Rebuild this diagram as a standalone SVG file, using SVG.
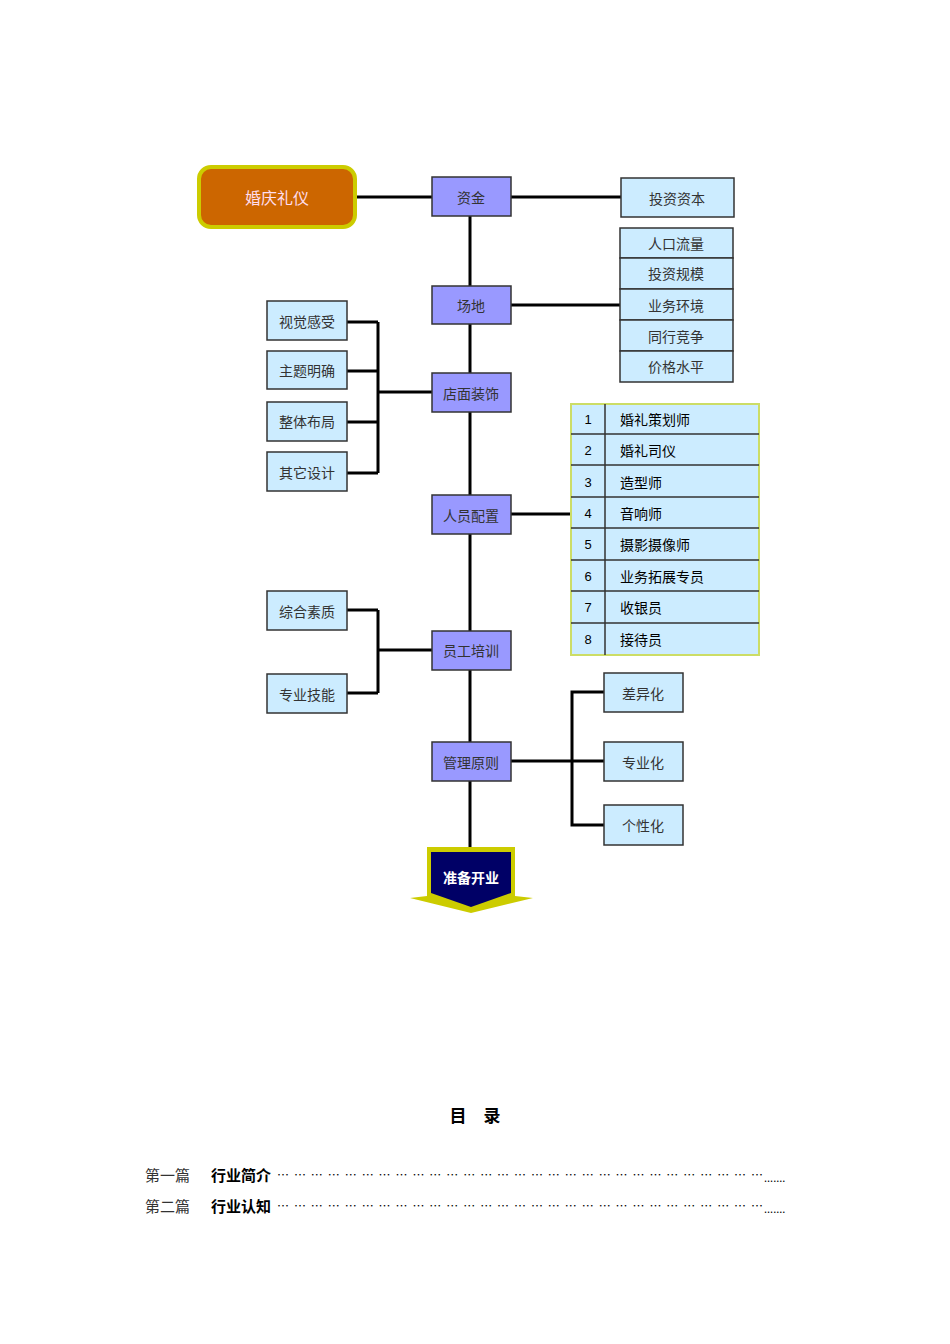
<svg xmlns="http://www.w3.org/2000/svg" width="950" height="1344" viewBox="0 0 950 1344">
<style>
.p{fill:#9999FF;stroke:#333;stroke-width:1.5}
.b{fill:#CCECFF;stroke:#333;stroke-width:1.5}
.t{font-family:"Noto Sans CJK SC",sans-serif;font-size:14px;fill:#333;text-anchor:middle;dominant-baseline:central}
.tb{font-family:"Noto Sans CJK SC",sans-serif;font-size:14px;fill:#000;dominant-baseline:central}
.l{stroke:#000;stroke-width:3;fill:none}
</style>
<rect width="950" height="1344" fill="#fff"/>
<g id="connectors">
<path class="l" d="M356 197H432M511 197H621M470 216V847M511 305H620M347 322H378M347 371H378M347 422H378M347 473H378M378 322V473M378 392H432M511 514H571M347 610H378M347 693H378M378 610V693M378 650H432M511 761H604M604 692H572V825H604"/>
</g>
<g id="n0"><rect x="199" y="167" width="156" height="60" rx="12" fill="#CC6600" stroke="#CCCC00" stroke-width="4"/><text class="t" x="277" y="197" style="fill:#fde;font-size:16px">婚庆礼仪</text></g>
<g id="n1"><rect class="p" x="432" y="177" width="79" height="39"/><text class="t" x="471" y="197">资金</text></g>
<g id="n2"><rect class="b" x="621" y="178" width="113" height="39"/><text class="t" x="677" y="198">投资资本</text></g>
<g id="n3"><rect class="b" x="620" y="228" width="113" height="30"/><text class="t" x="676" y="243">人口流量</text></g>
<g id="n4"><rect class="b" x="620" y="258" width="113" height="31"/><text class="t" x="676" y="273">投资规模</text></g>
<g id="n5"><rect class="b" x="620" y="289" width="113" height="31"/><text class="t" x="676" y="305">业务环境</text></g>
<g id="n6"><rect class="b" x="620" y="320" width="113" height="31"/><text class="t" x="676" y="336">同行竞争</text></g>
<g id="n7"><rect class="b" x="620" y="351" width="113" height="31"/><text class="t" x="676" y="366">价格水平</text></g>
<g id="n8"><rect class="p" x="432" y="286" width="79" height="38"/><text class="t" x="471" y="305">场地</text></g>
<g id="n9"><rect class="b" x="267" y="301" width="80" height="39"/><text class="t" x="307" y="321">视觉感受</text></g>
<g id="n10"><rect class="b" x="267" y="351" width="80" height="38"/><text class="t" x="307" y="370">主题明确</text></g>
<g id="n11"><rect class="b" x="267" y="402" width="80" height="39"/><text class="t" x="307" y="421">整体布局</text></g>
<g id="n12"><rect class="b" x="267" y="452" width="80" height="39"/><text class="t" x="307" y="472">其它设计</text></g>
<g id="n13"><rect class="p" x="432" y="373" width="79" height="39"/><text class="t" x="471" y="393">店面装饰</text></g>
<g id="table">
<rect x="571" y="404" width="188" height="251" fill="#CCECFF" stroke="#CCDD66" stroke-width="2"/>
<path d="M571 434H759M571 465H759M571 497H759M571 528H759M571 560H759M571 591H759M571 623H759M605 404V655" stroke="#333" stroke-width="1.5"/>
<g font-size="13" font-family="Liberation Sans,sans-serif" text-anchor="middle" dominant-baseline="central">
<text x="588" y="419">1</text><text x="588" y="450">2</text><text x="588" y="482">3</text><text x="588" y="513">4</text><text x="588" y="544">5</text><text x="588" y="576">6</text><text x="588" y="607">7</text><text x="588" y="639">8</text></g>
<text class="tb" x="620" y="419">婚礼策划师</text><text class="tb" x="620" y="450">婚礼司仪</text><text class="tb" x="620" y="482">造型师</text><text class="tb" x="620" y="513">音响师</text><text class="tb" x="620" y="544">摄影摄像师</text><text class="tb" x="620" y="576">业务拓展专员</text><text class="tb" x="620" y="607">收银员</text><text class="tb" x="620" y="639">接待员</text>
</g>
<g id="n14"><rect class="p" x="432" y="495" width="79" height="39"/><text class="t" x="471" y="515">人员配置</text></g>
<g id="n15"><rect class="b" x="267" y="591" width="80" height="39"/><text class="t" x="307" y="611">综合素质</text></g>
<g id="n16"><rect class="b" x="267" y="674" width="80" height="39"/><text class="t" x="307" y="694">专业技能</text></g>
<g id="n17"><rect class="p" x="432" y="631" width="79" height="39"/><text class="t" x="471" y="650">员工培训</text></g>
<g id="n18"><rect class="b" x="604" y="673" width="79" height="39"/><text class="t" x="643" y="693">差异化</text></g>
<g id="n19"><rect class="b" x="604" y="742" width="79" height="39"/><text class="t" x="643" y="762">专业化</text></g>
<g id="n20"><rect class="b" x="604" y="805" width="79" height="40"/><text class="t" x="643" y="825">个性化</text></g>
<g id="n21"><rect class="p" x="432" y="742" width="79" height="39"/><text class="t" x="471" y="762">管理原则</text></g>
<g id="n22"><polygon points="427,847 515,847 515,896 533,898 471,913 410,898 427,896" fill="#CCCC00"/><polygon points="431,852 511,852 511,893 471,907 431,893" fill="#000066"/><text class="t" x="471" y="877" style="fill:#fff;font-weight:bold">准备开业</text></g>
<text x="475" y="1114" font-family="Noto Sans CJK SC,sans-serif" font-size="17" font-weight="bold" text-anchor="middle" dominant-baseline="central">目　录</text>
<g font-family="Noto Sans CJK SC,sans-serif" font-size="15" dominant-baseline="central">
<text x="145" y="1174" fill="#333">第一篇</text><text x="211" y="1174" font-weight="bold">行业简介</text><text x="277" y="1174" font-size="12" textLength="486">……………………………………………………………………………</text><text x="764" y="1177" font-size="11">.......</text>
<text x="145" y="1205" fill="#333">第二篇</text><text x="211" y="1205" font-weight="bold">行业认知</text><text x="277" y="1205" font-size="12" textLength="486">……………………………………………………………………………</text><text x="764" y="1208" font-size="11">.......</text>
</g>
</svg>
